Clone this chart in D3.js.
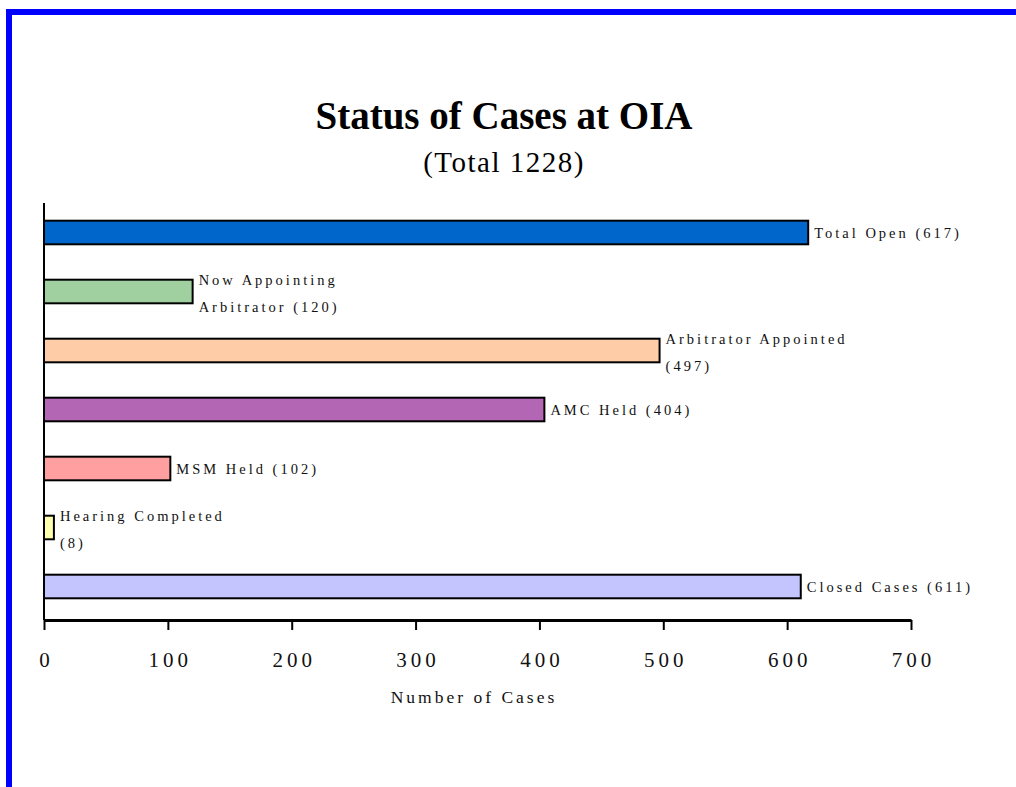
<!DOCTYPE html>
<html>
<head>
<meta charset="utf-8">
<script src="https://cdn.jsdelivr.net/npm/d3@7"></script>
<style>
  body { margin: 0; background: #fff; }
  svg { display: block; font-family: "Liberation Serif", "Times New Roman", serif; }
</style>
</head>
<body>
<svg id="chart" width="1016" height="787"></svg>
<script>
// chart data
var categories = ['Total Open', 'Now Appointing Arbitrator', 'Arbitrator Appointed', 'AMC Held',
                  'MSM Held', 'Hearing Completed', 'Closed Cases'];
var values = [617, 120, 497, 404, 102, 8, 611];
// label lines shown next to each bar
var labelLines = [
    ['Total Open (617)'],
    ['Now Appointing', 'Arbitrator (120)'],
    ['Arbitrator Appointed', '(497)'],
    ['AMC Held (404)'],
    ['MSM Held (102)'],
    ['Hearing Completed', '(8)'],
    ['Closed Cases (611)']
];
var colors = ['#0066cc', '#a0d0a0', '#ffcca8', '#b366b3', '#ff9f9f', '#ffffb0', '#c4c4ff'];
var xTicks = [0, 100, 200, 300, 400, 500, 600, 700];

var svg = d3.select('#chart');

// blue frame on the top and left
svg.append('rect').attr('x', 6).attr('y', 9).attr('width', 1010).attr('height', 6).attr('fill', '#0000ff');
svg.append('rect').attr('x', 6).attr('y', 9).attr('width', 6).attr('height', 778).attr('fill', '#0000ff');

// titles
svg.append('text')
    .attr('x', 504).attr('y', 129)
    .attr('text-anchor', 'middle')
    .style('font-size', '39px').style('font-weight', 'bold')
    .text('Status of Cases at OIA');
svg.append('text')
    .attr('x', 504).attr('y', 172)
    .attr('text-anchor', 'middle')
    .style('font-size', '29px').style('letter-spacing', '1.5px')
    .text('(Total 1228)');

var plotLeft = 44, plotRight = 911, plotTop = 203, plotBottom = 620;

var xScale = d3.scaleLinear().domain([0, 700]).range([plotLeft, plotRight]);
var yScale = d3.scaleBand()
    .domain(categories)
    .range([plotTop, plotBottom - 4])
    .paddingInner(0.6)
    .paddingOuter(0.3);

// bars
svg.append('g').selectAll('rect')
    .data(categories)
    .enter()
    .append('rect')
    .attr('x', xScale(0))
    .attr('y', function(d) { return yScale(d); })
    .attr('width', function(d, i) { return xScale(values[i]) - xScale(0); })
    .attr('height', yScale.bandwidth())
    .attr('fill', function(d, i) { return colors[i]; })
    .attr('stroke', '#000')
    .attr('stroke-width', 2);

// bar labels
var labels = svg.append('g').selectAll('text')
    .data(categories)
    .enter()
    .append('text')
    .attr('x', function(d, i) { return xScale(values[i]) + 6; })
    .attr('y', function(d) { return yScale(d) + yScale.bandwidth() / 2; })
    .style('font-size', '14.5px')
    .style('letter-spacing', '3px')
    .attr('fill', '#111');
labels.each(function(d, i) {
    var lines = labelLines[i];
    var t = d3.select(this);
    var first = lines.length === 1 ? 5 : -7;
    lines.forEach(function(line, j) {
        t.append('tspan')
            .attr('x', t.attr('x'))
            .attr('dy', j === 0 ? first : 27)
            .text(line);
    });
});

// y axis line
svg.append('line')
    .attr('x1', plotLeft).attr('x2', plotLeft)
    .attr('y1', plotTop).attr('y2', plotBottom)
    .attr('stroke', '#000').attr('stroke-width', 2);

// x axis
var xAxis = svg.append('g')
    .attr('transform', 'translate(0,' + plotBottom + ')')
    .call(d3.axisBottom(xScale).tickValues(xTicks).tickSize(10).tickSizeOuter(0).tickPadding(22));
xAxis.select('.domain').attr('stroke', '#000').attr('stroke-width', 3);
xAxis.selectAll('.tick line').attr('stroke', '#000').attr('stroke-width', 2);
xAxis.selectAll('.tick text')
    .attr('fill', '#111')
    .attr('dx', '2px')
    .style('font-family', '"Liberation Serif", serif')
    .style('font-size', '21px')
    .style('letter-spacing', '4px');

svg.append('text')
    .attr('x', 474).attr('y', 703)
    .attr('text-anchor', 'middle')
    .style('font-size', '17.5px').style('letter-spacing', '3px')
    .attr('fill', '#111')
    .text('Number of Cases');
</script>
</body>
</html>
